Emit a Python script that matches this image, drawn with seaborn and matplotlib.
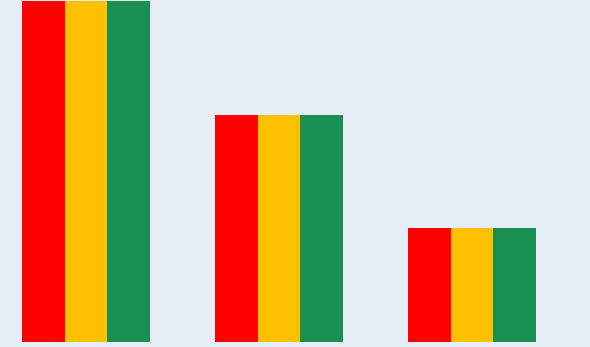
import matplotlib
matplotlib.use("Agg")
import matplotlib.pyplot as plt
import seaborn as sns
import pandas as pd

categories = ["A", "B", "C"]
series_names = ["Red", "Yellow", "Green"]
red_values = [3, 2, 1]
yellow_values = [3, 2, 1]
green_values = [3, 2, 1]
colors = ["#FF0000", "#FFC000", "#1A8F52"]

rows = []
for name, vals in zip(series_names, [red_values, yellow_values, green_values]):
    for c, v in zip(categories, vals):
        rows.append({"category": c, "series": name, "value": v})
df = pd.DataFrame(rows)

fig = plt.figure(figsize=(5.90, 3.47), dpi=100)
ax = fig.add_axes([0, 0, 1, 1])
bg = "#E7EEF8"
fig.patch.set_facecolor(bg)
ax.set_facecolor(bg)

sns.barplot(data=df, x="category", y="value", hue="series", palette=colors,
            width=0.668, dodge=True, ax=ax, legend=False, saturation=1,
            linewidth=0)

ax.set_xlim(-86 / 193, (590 - 86) / 193)
ax.set_ylim(-5 / 113.67, 3 + 1 / 113.67)
ax.axis("off")

fig.savefig("out.png", dpi=100, facecolor=bg)
